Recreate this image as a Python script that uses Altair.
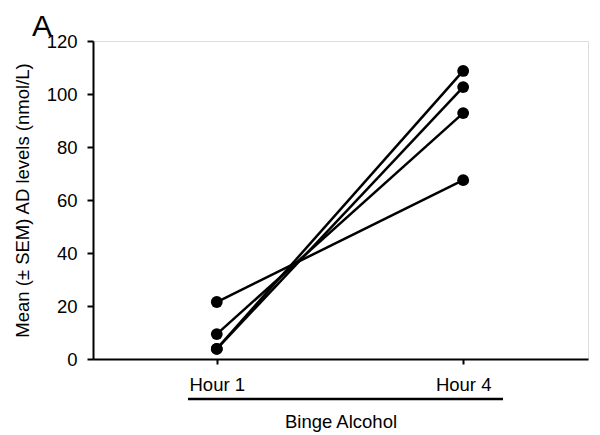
import altair as alt
import pandas as pd

subjects = ["S1", "S2", "S3", "S4"]
hour1 = [21.5, 9.4, 3.8, 3.8]
hour4 = [67.5, 92.8, 102.6, 108.7]
hours = [1, 4]
panel_label = "A"

rows = []
for s, a, b in zip(subjects, hour1, hour4):
    rows.append({"subject": s, "hour": hours[0], "value": a})
    rows.append({"subject": s, "hour": hours[1], "value": b})
df = pd.DataFrame(rows)

FONT = "Liberation Sans"
FS = 18.5

x = alt.X("hour:Q",
          scale=alt.Scale(domain=[-0.507, 5.52], nice=False, zero=False),
          axis=alt.Axis(values=hours, labelExpr="'Hour ' + datum.value",
                        title="Binge Alcohol", titlePadding=19,
                        titleFontWeight="normal", titleFontSize=FS,
                        labelFontSize=FS, labelPadding=11, tickSize=5,
                        grid=False, domainColor="black", tickColor="black",
                        domainWidth=2, tickWidth=2, labelColor="black",
                        titleColor="black", labelFont=FONT, titleFont=FONT))
y = alt.Y("value:Q",
          scale=alt.Scale(domain=[0, 120], nice=False),
          axis=alt.Axis(values=[0, 20, 40, 60, 80, 100, 120],
                        title="Mean (± SEM) AD levels (nmol/L)",
                        titleFontWeight="normal", titleFontSize=FS,
                        titlePadding=14, labelFontSize=FS, labelPadding=10,
                        tickSize=6, grid=False, domainColor="black",
                        tickColor="black", domainWidth=2, tickWidth=2,
                        labelColor="black", titleColor="black",
                        labelFont=FONT, titleFont=FONT))

base = alt.Chart(df)
lines = base.mark_line(color="black", strokeWidth=2.5).encode(
    x=x, y=y, detail="subject:N")
pts = base.mark_circle(color="black", opacity=1, size=140).encode(x=x, y=y)

underline = alt.Chart(pd.DataFrame({"k": [0]})).mark_rule(
    color="black", strokeWidth=2.5, clip=False).encode(
    x=alt.value(95), x2=alt.value(410), y=alt.value(358))

label = alt.Chart(pd.DataFrame({"t": [panel_label]})).mark_text(
    fontSize=30, font=FONT, align="left", baseline="alphabetic",
    color="black").encode(
    text="t:N", x=alt.value(-61), y=alt.value(-5))

chart = alt.layer(lines, pts, underline, label).properties(
    width=495, height=318,
    autosize=alt.AutoSizeParams(type="none"),
    padding={"left": 85, "top": 33, "right": 4, "bottom": 76},
).configure_view(stroke=None).configure(background="white")

chart.save("out.html", embed_options={"renderer": "svg", "actions": False})
